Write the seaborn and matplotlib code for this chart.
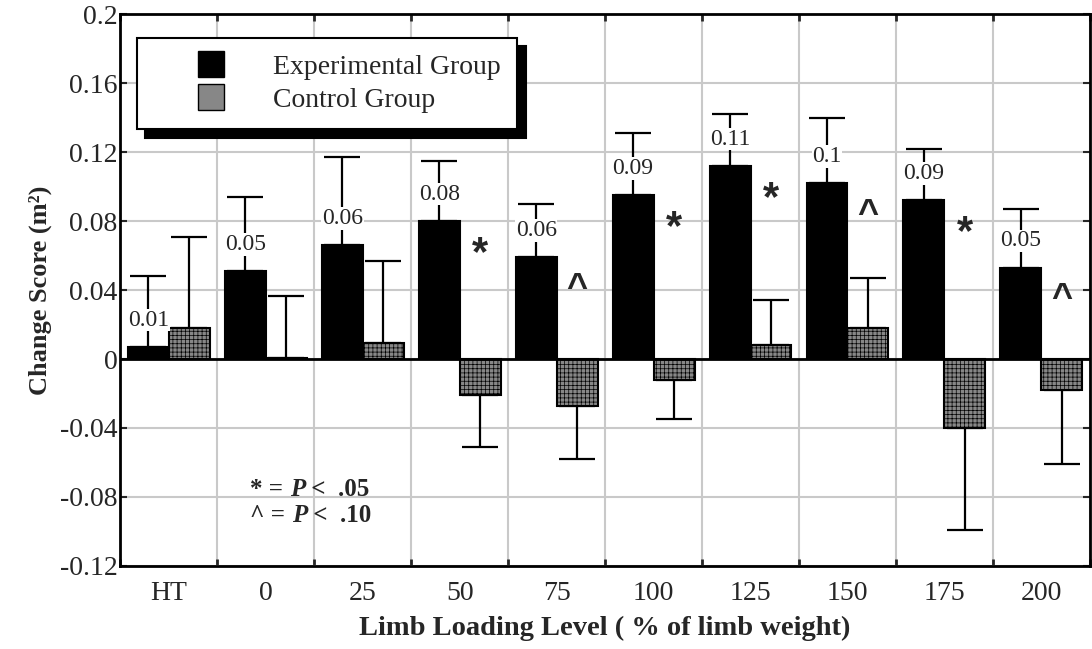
import matplotlib
matplotlib.use("Agg")
import matplotlib.pyplot as plt
import numpy as np
import pandas as pd
import seaborn as sns
from matplotlib.lines import Line2D

levels = ["HT", "0", "25", "50", "75", "100", "125", "150", "175", "200"]
exp_mean = [0.007, 0.051, 0.066, 0.080, 0.059, 0.095, 0.112, 0.102, 0.092, 0.053]
exp_err = [0.041, 0.043, 0.051, 0.035, 0.031, 0.036, 0.030, 0.038, 0.030, 0.034]
ctrl_mean = [0.018, 0.0005, 0.009, -0.021, -0.027, -0.012, 0.008, 0.018, -0.040, -0.018]
ctrl_err = [0.053, 0.036, 0.048, 0.030, 0.031, 0.023, 0.026, 0.029, 0.059, 0.043]
exp_labels = ["0.01", "0.05", "0.06", "0.08", "0.06", "0.09", "0.11", "0.1", "0.09", "0.05"]
sig = ["", "", "", "*", "^", "*", "*", "^", "*", "^"]
yticks = [-0.12, -0.08, -0.04, 0, 0.04, 0.08, 0.12, 0.16, 0.2]
ytick_labels = ["-0.12", "-0.08", "-0.04", "0", "0.04", "0.08", "0.12", "0.16", "0.2"]
groups = ["Experimental Group", "Control Group"]

sns.set_theme(style="white")
plt.rcParams["font.family"] = ["Liberation Serif", "DejaVu Serif"]
plt.rcParams["hatch.color"] = "#686868"
plt.rcParams["hatch.linewidth"] = 0.5

df = pd.DataFrame({
    "level": levels * 2,
    "value": exp_mean + ctrl_mean,
    "group": [groups[0]] * len(levels) + [groups[1]] * len(levels),
})

fig = plt.figure(figsize=(10.92, 6.49), dpi=100)
ax = fig.add_axes([0.1103, 0.1279, 0.8877, 0.8505])

ax.set_xticks(np.arange(-0.5, len(levels)), minor=True)
ax.grid(True, which="minor", axis="x", color="#c9c9c9", linewidth=1.5, zorder=0)
ax.grid(True, which="major", axis="y", color="#c9c9c9", linewidth=1.5, zorder=0)
ax.set_axisbelow(True)

sns.barplot(data=df, x="level", y="value", hue="group", order=levels, hue_order=groups,
            palette=["black", "#878787"], width=0.845, gap=0, edgecolor="black",
            linewidth=1.5, errorbar=None, legend=False, ax=ax, zorder=2)

exp_bars, ctrl_bars = ax.containers[0], ax.containers[1]
for bar in ctrl_bars:
    bar.set_hatch("++++")

ax.axhline(0, color="black", linewidth=2, zorder=3)

exp_x = [b.get_x() + b.get_width() / 2 for b in exp_bars]
ctrl_x = [b.get_x() + b.get_width() / 2 for b in ctrl_bars]


def one_sided(means, errs):
    lower = [e if m < 0 else 0 for m, e in zip(means, errs)]
    upper = [0 if m < 0 else e for m, e in zip(means, errs)]
    return [lower, upper]


err_style = dict(fmt="none", ecolor="black", elinewidth=1.6, capsize=13, capthick=1.6, zorder=1.5)
ax.errorbar(exp_x, exp_mean, yerr=one_sided(exp_mean, exp_err), **err_style)
ax.errorbar(ctrl_x, ctrl_mean, yerr=one_sided(ctrl_mean, ctrl_err), **err_style)

for x, m, lab in zip(exp_x, exp_mean, exp_labels):
    ax.text(x, m + 0.0155, lab, ha="center", va="center", fontsize=17, zorder=4,
            bbox=dict(facecolor="white", edgecolor="none", pad=0.5))

# significance marks next to each pair
for x, m, s in zip(ctrl_x, exp_mean, sig):
    if not s:
        continue
    size, dy = (30, -0.019) if s == "*" else (26, -0.018)
    ax.text(x, m + dy, s, ha="center", va="center", fontsize=size, fontweight="bold",
            family=["Liberation Sans", "DejaVu Sans"], zorder=4)

# significance key
bold = dict(fontsize=18, fontweight="bold")
for y, sym, p in [(-0.0755, "* = ", "<  .05"), (-0.0905, "^ = ", "<  .10")]:
    t1 = ax.text(0.84, y, sym, va="center", ha="left", **bold)
    t2 = ax.annotate("P", xycoords=t1, xy=(1, 0), va="bottom", ha="left",
                     fontsize=18, fontweight="bold", fontstyle="italic")
    ax.annotate(" " + p, xycoords=t2, xy=(1, 0), va="bottom", ha="left", **bold)

ax.set_xlim(-0.5, len(levels) - 0.5)
ax.set_ylim(-0.12, 0.2)
ax.set_yticks(yticks)
ax.set_yticklabels(ytick_labels)
ax.tick_params(axis="y", which="major", direction="in", length=5, width=1.5,
               left=True, right=True, labelsize=20, pad=2)
ax.tick_params(axis="x", which="major", length=0, labelsize=20, pad=11)
ax.tick_params(axis="x", which="minor", direction="in", length=5, width=2,
               bottom=True, top=True)
for sp in ax.spines.values():
    sp.set_color("black")
    sp.set_linewidth(2)

ax.set_xlabel("Limb Loading Level ( % of limb weight)", fontsize=20.5, fontweight="bold", labelpad=7)
ax.set_ylabel("Change Score (m²)", fontsize=19, fontweight="bold", labelpad=6)

handles = [
    Line2D([], [], linestyle="none", marker="s", markersize=19, markerfacecolor="black",
           markeredgecolor="black"),
    Line2D([], [], linestyle="none", marker="s", markersize=19, markerfacecolor="#878787",
           markeredgecolor="black"),
]
leg = ax.legend(handles, groups, loc="upper left", bbox_to_anchor=(0.017, 0.9565),
                borderaxespad=0, fontsize=20, handlelength=4.1, handletextpad=0.2,
                labelspacing=0.25, borderpad=0.6, fancybox=False, framealpha=1,
                edgecolor="black",
                shadow={"ox": 6, "oy": -6, "facecolor": "black", "edgecolor": "black", "alpha": 1})
leg.get_frame().set_linewidth(1.5)
leg.set_zorder(5)

fig.savefig("out.png", dpi=100)
